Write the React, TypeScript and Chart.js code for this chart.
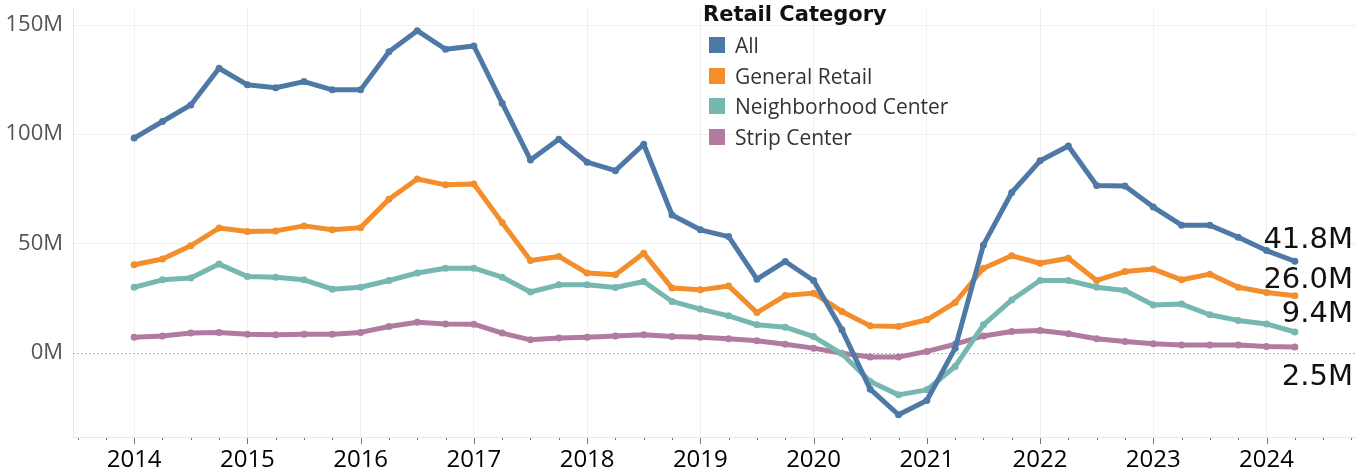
import React, { useEffect, useRef } from "react";
import { Chart, registerables } from "chart.js";

Chart.register(...registerables);

const quarters = [
  "2014Q1","2014Q2","2014Q3","2014Q4","2015Q1","2015Q2","2015Q3","2015Q4",
  "2016Q1","2016Q2","2016Q3","2016Q4","2017Q1","2017Q2","2017Q3","2017Q4",
  "2018Q1","2018Q2","2018Q3","2018Q4","2019Q1","2019Q2","2019Q3","2019Q4",
  "2020Q1","2020Q2","2020Q3","2020Q4","2021Q1","2021Q2","2021Q3","2021Q4",
  "2022Q1","2022Q2","2022Q3","2022Q4","2023Q1","2023Q2","2023Q3","2023Q4",
  "2024Q1","2024Q2",
];

const seriesNames = ["All", "General Retail", "Neighborhood Center", "Strip Center"];
const seriesColors = ["#4e79a7", "#f28e2b", "#76b7b2", "#b07aa1"];

// values in millions
const allValues = [
  98.2, 105.8, 113.4, 130.2, 122.6, 121.3, 124.1, 120.3, 120.3, 137.8, 147.4, 138.9,
  140.4, 114.2, 88.2, 97.7, 87.2, 83.3, 95.4, 63.0, 56.2, 53.1, 33.6, 41.7,
  33.0, 10.4, -16.8, -28.5, -22.0, 2.0, 49.3, 73.3, 87.8, 94.6, 76.5, 76.3,
  66.6, 58.3, 58.3, 52.8, 46.7, 41.8,
];
const generalRetail = [
  40.2, 42.8, 48.9, 57.0, 55.4, 55.7, 58.0, 56.2, 57.2, 70.2, 79.5, 76.8,
  77.2, 59.5, 42.1, 44.0, 36.4, 35.6, 45.5, 29.5, 28.7, 30.5, 18.3, 26.1,
  27.2, 18.8, 12.2, 11.9, 15.0, 22.9, 38.6, 44.3, 40.9, 43.2, 33.0, 37.1,
  38.2, 33.3, 35.9, 29.9, 27.5, 26.0,
];
const neighborhoodCenter = [
  29.9, 33.3, 34.1, 40.5, 34.8, 34.5, 33.3, 29.0, 29.9, 33.0, 36.4, 38.6,
  38.6, 34.5, 27.7, 31.0, 31.0, 29.8, 32.5, 23.4, 19.9, 16.8, 12.7, 11.6,
  7.3, -0.6, -13.3, -19.4, -17.1, -6.4, 12.7, 24.1, 33.0, 33.0, 29.9, 28.4,
  21.8, 22.2, 17.3, 14.7, 13.1, 9.4,
];
const stripCenter = [
  7.0, 7.6, 8.9, 9.2, 8.4, 8.1, 8.4, 8.4, 9.2, 11.9, 13.9, 13.1,
  13.0, 8.9, 5.8, 6.6, 7.0, 7.6, 8.1, 7.3, 7.0, 6.3, 5.4, 3.8,
  2.0, -0.3, -2.1, -2.1, 0.5, 3.8, 7.6, 9.6, 10.1, 8.6, 6.3, 5.0,
  4.0, 3.4, 3.4, 3.4, 2.7, 2.5,
];

const yTickValues = [0, 50, 100, 150];
const xMin = 2013.46;
const xMax = 2024.79;
const yMin = -38.7;
const yMax = 157.8;

const quarterToNumber = (q: string) => {
  const year = parseInt(q.slice(0, 4), 10);
  const qn = parseInt(q.slice(5), 10);
  return year + (qn - 1) / 4;
};

const seriesValues = [allValues, generalRetail, neighborhoodCenter, stripCenter];
// end-label vertical offsets (px) relative to last point (positive = baseline above point)
const endLabelOffsets = [13, 8, 10, -38];

const FONT = '"Open Sans", "Noto Sans", sans-serif';

export default function App() {
  const canvasRef = useRef<HTMLCanvasElement | null>(null);

  useEffect(() => {
    const canvas = canvasRef.current;
    if (!canvas) return;
    const xs = quarters.map(quarterToNumber);

    const datasets = seriesNames.map((name, si) => ({
      label: name,
      data: seriesValues[si].map((v, i) => ({ x: xs[i], y: v })),
      borderColor: seriesColors[si],
      backgroundColor: seriesColors[si],
      pointBackgroundColor: seriesColors[si],
      pointBorderWidth: 0,
      pointRadius: 3.5,
      borderWidth: 5,
      borderJoinStyle: "round" as const,
      borderCapStyle: "round" as const,
      tension: 0,
      fill: false,
    }));

    const decorPlugin = {
      id: "decor",
      beforeDatasetsDraw(chart: any) {
        const { ctx, chartArea, scales } = chart;
        const x = scales.x;
        const y = scales.y;
        ctx.save();
        const y0 = Math.round(y.getPixelForValue(0)) + 0.5;
        ctx.strokeStyle = "#b5b5b5";
        ctx.lineWidth = 1;
        ctx.setLineDash([2, 2]);
        ctx.beginPath();
        ctx.moveTo(chartArea.left, y0);
        ctx.lineTo(chartArea.right, y0);
        ctx.stroke();
        ctx.setLineDash([]);
        ctx.strokeStyle = "#777";
        x.ticks.forEach((t: any) => {
          const px = Math.round(x.getPixelForValue(t.value)) + 0.5;
          const major = Math.abs(t.value - Math.round(t.value)) < 1e-6;
          const len = major ? 6 : 2;
          ctx.beginPath();
          ctx.moveTo(px, chartArea.bottom + 1);
          ctx.lineTo(px, chartArea.bottom + 1 + len);
          ctx.stroke();
        });
        ctx.restore();
      },
      afterDatasetsDraw(chart: any) {
        const { ctx, chartArea, scales } = chart;
        const y = scales.y;
        ctx.save();
        ctx.font = '29px "DejaVu Sans", "Liberation Sans", sans-serif';
        ctx.fillStyle = "#111";
        ctx.textAlign = "right";
        ctx.textBaseline = "alphabetic";
        seriesValues.forEach((vals, si) => {
          const v = vals[vals.length - 1];
          const py = y.getPixelForValue(v);
          ctx.fillText(v.toFixed(1) + "M", chartArea.right - 3, py - endLabelOffsets[si]);
        });
        ctx.restore();
      },
    };

    const chart = new Chart(canvas, {
      type: "line",
      data: { datasets },
      options: {
        animation: false,
        responsive: true,
        maintainAspectRatio: false,
        layout: { padding: { top: 8, right: 7, left: 0, bottom: 0 } },
        plugins: {
          legend: { display: false },
          tooltip: { enabled: false },
        },
        scales: {
          x: {
            type: "linear",
            min: xMin,
            max: xMax,
            afterBuildTicks(scale: any) {
              const ticks = [];
              for (let q = 2013.5; q <= 2024.76; q += 0.25) ticks.push({ value: q });
              scale.ticks = ticks;
            },
            afterFit(scale: any) {
              scale.height = 36;
              scale.paddingLeft = 0;
              scale.paddingRight = 0;
            },
            ticks: {
              autoSkip: false,
              maxRotation: 0,
              padding: 9,
              color: "#000",
              font: { family: FONT, size: 24 },
              callback: (v: any) =>
                Math.abs(v - Math.round(v)) < 1e-6 ? String(Math.round(v)) : "",
            },
            grid: {
              drawTicks: false,
              color: (c: any) =>
                c.tick && Math.abs(c.tick.value - Math.round(c.tick.value)) < 1e-6
                  ? "#f0f0f0"
                  : "rgba(0,0,0,0)",
            },
            border: { display: true, color: "#e6e6e6" },
          },
          y: {
            type: "linear",
            min: yMin,
            max: yMax,
            afterBuildTicks(scale: any) {
              scale.ticks = yTickValues.map((v) => ({ value: v }));
            },
            afterFit(scale: any) {
              scale.width = 73;
              scale.paddingTop = 0;
              scale.paddingBottom = 0;
            },
            ticks: {
              padding: 10,
              color: "#555",
              font: { family: FONT, size: 22 },
              callback: (v: any) => `${v}M`,
            },
            grid: {
              drawTicks: false,
              color: (c: any) => (c.tick && c.tick.value === 0 ? "rgba(0,0,0,0)" : "#f0f0f0"),
            },
            border: { display: true, color: "#e6e6e6" },
          },
        },
      },
      plugins: [decorPlugin],
    });

    return () => chart.destroy();
  }, []);

  const legendTop = 37;
  const legendStep = 30.7;

  return (
    <div
      style={{
        position: "fixed",
        left: 0,
        top: 0,
        width: 1363,
        height: 473,
        background: "#fff",
        fontFamily: FONT,
      }}
    >
      <canvas ref={canvasRef} />
      <div
        style={{
          position: "absolute",
          left: 703,
          top: 4,
          fontFamily: '"DejaVu Sans", sans-serif',
          fontSize: 21,
          fontWeight: 700,
          lineHeight: "20px",
          color: "#111",
          whiteSpace: "nowrap",
        }}
      >
        Retail Category
      </div>
      {seriesNames.map((name, i) => (
        <div
          key={name}
          style={{
            position: "absolute",
            left: 709,
            top: legendTop + i * legendStep,
            height: 16,
            display: "flex",
            alignItems: "center",
            whiteSpace: "nowrap",
          }}
        >
          <div style={{ width: 16, height: 16, background: seriesColors[i] }} />
          <span style={{ marginLeft: 10, fontSize: 21, lineHeight: "16px", color: "#333" }}>
            {name}
          </span>
        </div>
      ))}
    </div>
  );
}
